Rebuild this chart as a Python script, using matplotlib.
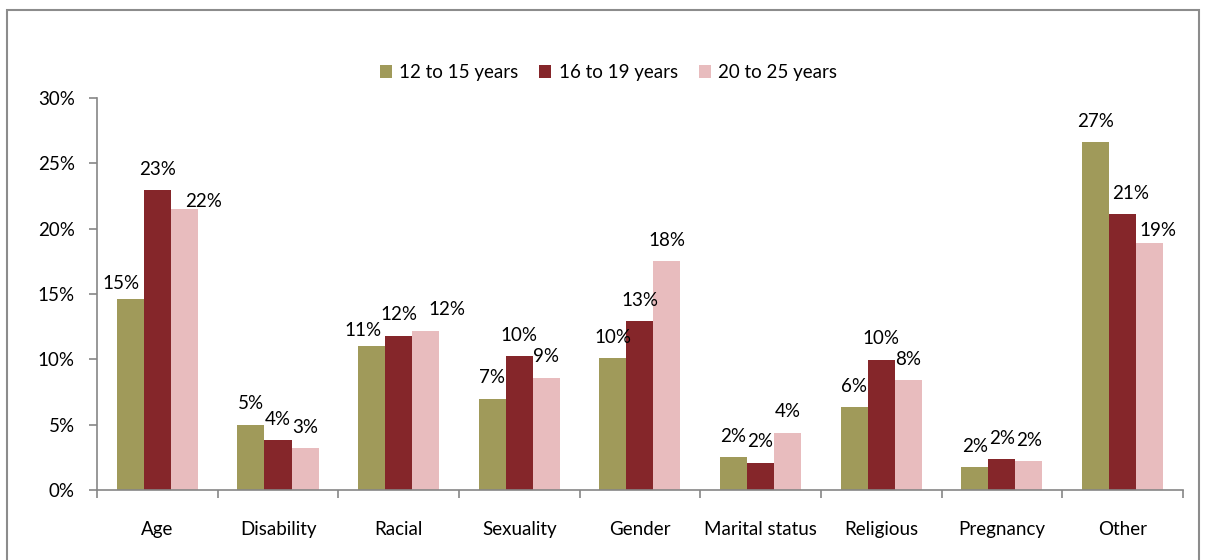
import numpy as np
import matplotlib.pyplot as plt
from matplotlib.patches import Rectangle

plt.rcParams['font.family'] = ['Lato', 'DejaVu Sans']

kategorier = ["Age", "Disability", "Racial", "Sexuality", "Gender",
              "Marital status", "Religious", "Pregnancy", "Other"]
serier = ["12 to 15 years", "16 to 19 years", "20 to 25 years"]
v_12_15 = [14.6, 5.0, 11.0, 7.0, 10.1, 2.5, 6.35, 1.76, 26.6]
v_16_19 = [22.95, 3.8, 11.8, 10.25, 12.9, 2.07, 9.95, 2.37, 21.1]
v_20_25 = [21.5, 3.2, 12.2, 8.6, 17.5, 4.4, 8.4, 2.2, 18.9]
farger = ["#A09A5A", "#85262A", "#E8BCBE"]

# Excel-plasserte etiketter som er dyttet litt til siden (punkter)
dytt = {(0, 0): (-7, -4), (0, 2): (14, -10), (2, 0): (-6, -3.5), (2, 2): (15, 0),
        (8, 1): (6, 0), (8, 2): (6, -6)}

fs = 13.5
fig = plt.figure(figsize=(12.07, 5.6), dpi=100)
ax = fig.add_axes([0.0804, 0.125, 0.8996, 0.700])

# ramme rundt hele figuren
fig.patches.append(Rectangle((7 / 1207, -0.05), 1192 / 1207, 1.05 - 10 / 560,
                             transform=fig.transFigure, fill=False,
                             edgecolor="#8C8C8C", linewidth=1.5))

x = np.arange(len(kategorier))
b = 0.224
for i, (verdier, navn, farge) in enumerate(zip([v_12_15, v_16_19, v_20_25], serier, farger)):
    pos = x + (i - 1) * b
    ax.bar(pos, verdier, width=b, color=farge, label=navn)
    for j, (p, v) in enumerate(zip(pos, verdier)):
        dx, dy = dytt.get((j, i), (0, 0))
        ax.annotate(f"{round(v):.0f}%", (p, v), xytext=(dx, 9 + dy),
                    textcoords="offset points", ha="center", va="bottom",
                    fontsize=fs)

ax.set_xlim(-0.5, len(kategorier) - 0.5)
ax.set_ylim(0, 30)
ax.set_yticks(np.arange(0, 31, 5))
ax.set_yticklabels([f"{t}%" for t in range(0, 31, 5)], fontsize=fs)
ax.set_xticks(x)
ax.set_xticklabels(kategorier, fontsize=fs)
ax.set_xticks(np.arange(-0.5, len(kategorier)), minor=True)
ax.tick_params(axis="x", which="major", length=0, pad=22)
ax.tick_params(axis="x", which="minor", length=6, color="#868686", width=1.2, direction="out")
ax.tick_params(axis="y", length=6, color="#868686", width=1.2, pad=10)

for s in ["top", "right"]:
    ax.spines[s].set_visible(False)
for s in ["left", "bottom"]:
    ax.spines[s].set_color("#868686")
    ax.spines[s].set_linewidth(1.2)

ax.legend(loc="upper center", bbox_to_anchor=(0.471, 1.13), ncol=3, frameon=False,
          fontsize=fs, handlelength=0.65, handleheight=0.65, handletextpad=0.4,
          columnspacing=1.1)

plt.savefig("out.png", dpi=100)
